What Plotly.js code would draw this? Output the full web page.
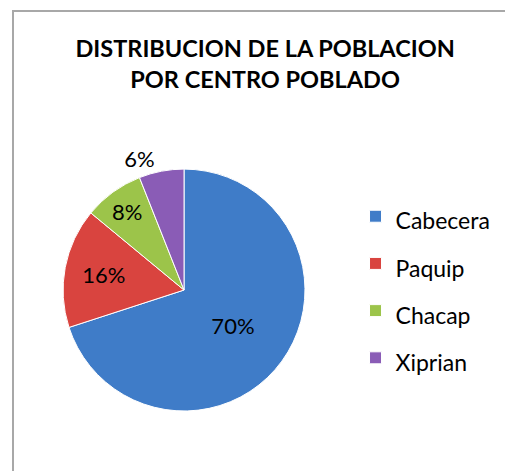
<!DOCTYPE html>
<html>
<head>
<meta charset="utf-8">
<script src="https://cdn.plot.ly/plotly-3.0.1.min.js"></script>
<style>
  html, body { margin: 0; padding: 0; background: #ffffff; }
  #frame { position: absolute; left: 12px; top: 10px; width: 520px; height: 490px;
           border-left: 2px solid #a8a8a8; border-top: 2px solid #a8a8a8; box-sizing: border-box; }
  #chart { position: absolute; left: 0; top: 0; width: 505px; height: 471px; }
</style>
</head>
<body>
<div id="frame"></div>
<div id="chart"></div>
<script>
const categories = ["Cabecera", "Paquip", "Chacap", "Xiprian"];
const shares = [70, 16, 8, 6];
const sliceColors = ["#3f7cc8", "#d9443f", "#9cc44a", "#8a5cb6"];
const labelPositions = ["inside", "inside", "inside", "outside"];

// legend text drawn smaller than the legend font, so entries get the wide spacing of the reference
const legendLabels = categories.map(c => '<span style="font-size:23px">' + c + '</span>');

const data = [{
  type: "pie",
  labels: legendLabels,
  values: shares,
  sort: false,
  direction: "clockwise",
  rotation: 0,
  textinfo: "percent",
  textposition: labelPositions,
  insidetextorientation: "horizontal",
  textfont: { family: "Lato, 'Open Sans', sans-serif", size: 22, color: "#000000" },
  outsidetextfont: { family: "Lato, 'Open Sans', sans-serif", size: 22, color: "#000000" },
  marker: { colors: sliceColors, line: { color: "#ffffff", width: 1 } },
  domain: { x: [0.1248, 0.604], y: [0.1274, 0.641] },
  hoverinfo: "percent"
}];

const layout = {
  width: 505,
  height: 471,
  margin: { l: 0, r: 0, t: 0, b: 0 },
  paper_bgcolor: "rgba(0,0,0,0)",
  plot_bgcolor: "rgba(0,0,0,0)",
  title: {
    text: "DISTRIBUCION DE LA POBLACION<br>POR CENTRO POBLADO",
    font: { family: "Lato, 'Open Sans', sans-serif", size: 23.5, color: "#000000", weight: "bold" },
    x: 0.525, xanchor: "center",
    y: 0.878, yanchor: "top"
  },
  showlegend: true,
  legend: {
    x: 0.704, xanchor: "left",
    y: 0.3904, yanchor: "middle",
    font: { family: "Lato, 'Open Sans', sans-serif", size: 34, color: "#000000" },
    bgcolor: "rgba(0,0,0,0)"
  }
};

Plotly.newPlot("chart", data, layout, { displayModeBar: false, staticPlot: true });
</script>
</body>
</html>
